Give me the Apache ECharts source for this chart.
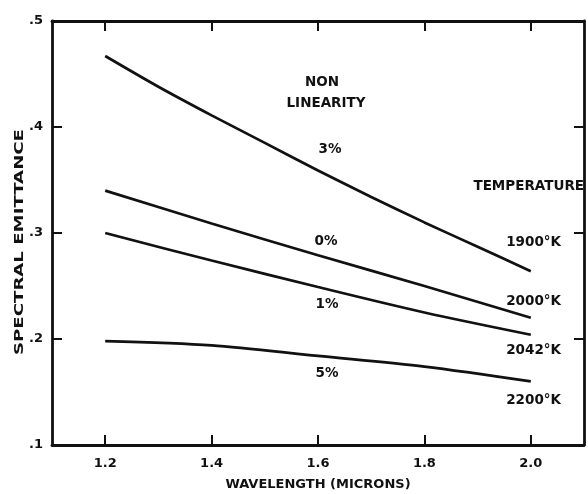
<!DOCTYPE html>
<html>
<head>
<meta charset="utf-8">
<script src="https://cdn.jsdelivr.net/npm/echarts@6/dist/echarts.min.js"></script>
<style>
  html, body { margin: 0; padding: 0; background: #ffffff; }
  #chart { width: 588px; height: 494px; }
</style>
</head>
<body>
<div id="chart"></div>
<script>
// Wavelength sample points (microns)
var waveFine = [1.2, 1.3, 1.4, 1.5, 1.6, 1.7, 1.8, 1.9, 2.0];
var waveCoarse = [1.2, 1.4, 1.6, 1.8, 2.0];

// Spectral emittance for each non-linearity / temperature case
var emit3pct = [0.467, 0.438, 0.411, 0.385, 0.359, 0.334, 0.310, 0.287, 0.264]; // 1900°K
var emit0pct = [0.340, 0.309, 0.279, 0.250, 0.220];                             // 2000°K
var emit1pct = [0.300, 0.274, 0.249, 0.225, 0.204];                             // 2042°K
var emit5pct = [0.198, 0.194, 0.184, 0.174, 0.160];                             // 2200°K

// Axis ticks
var xTicks = [1.2, 1.4, 1.6, 1.8, 2.0];
var yTicks = [0.1, 0.2, 0.3, 0.4, 0.5];

function pairs(xs, ys) {
  return xs.map(function (x, i) { return [x, ys[i]]; });
}

var FONT = '"DejaVu Sans", sans-serif';
var INK = '#111111';

function curve(xs, ys) {
  return {
    type: 'line',
    data: pairs(xs, ys),
    smooth: 0.3,
    showSymbol: false,
    silent: true,
    lineStyle: { color: INK, width: 2.7 },
    xAxisIndex: 0,
    yAxisIndex: 0
  };
}

function label(text, x, y, align, size) {
  return {
    type: 'text',
    x: x,
    y: y,
    silent: true,
    style: {
      text: text,
      fill: INK,
      font: 'bold ' + (size || 13.5) + 'px ' + FONT,
      textAlign: align || 'center',
      textVerticalAlign: 'middle'
    }
  };
}

var tickStyle = { show: true, inside: true, length: 10, lineStyle: { color: INK, width: 2 } };
var lineStyle = { show: true, lineStyle: { color: INK, width: 2.8 } };

var chart = echarts.init(document.getElementById('chart'), null, { renderer: 'canvas' });

chart.setOption({
  backgroundColor: '#ffffff',
  animation: false,
  grid: { left: 52, right: 4, top: 21, bottom: 49, containLabel: false, outerBoundsMode: 'none' },
  xAxis: [
    {
      type: 'value', position: 'bottom', min: 1.1, max: 2.1,
      axisLine: lineStyle,
      axisTick: Object.assign({ customValues: xTicks }, tickStyle),
      splitLine: { show: false },
      axisLabel: {
        customValues: xTicks, margin: 12, color: INK,
        fontFamily: FONT, fontWeight: 'bold', fontSize: 13,
        formatter: function (v) { return v.toFixed(1); }
      },
      name: 'WAVELENGTH (MICRONS)', nameLocation: 'middle', nameGap: 33,
      nameTextStyle: { color: INK, fontFamily: FONT, fontWeight: 'bold', fontSize: 13 }
    },
    {
      type: 'value', position: 'top', min: 1.1, max: 2.1,
      axisLine: lineStyle,
      axisTick: Object.assign({ customValues: xTicks }, tickStyle),
      splitLine: { show: false },
      axisLabel: { show: false }
    }
  ],
  yAxis: [
    {
      type: 'value', position: 'left', min: 0.1, max: 0.5, interval: 0.1,
      axisLine: lineStyle,
      axisTick: tickStyle,
      splitLine: { show: false },
      axisLabel: {
        margin: 9, color: INK, fontFamily: FONT, fontWeight: 'bold', fontSize: 13,
        formatter: function (v) { return v.toFixed(1).replace(/^0/, ''); }
      }
    },
    {
      type: 'value', position: 'right', min: 0.1, max: 0.5, interval: 0.1,
      axisLine: lineStyle,
      axisTick: tickStyle,
      splitLine: { show: false },
      axisLabel: { show: false }
    }
  ],
  series: [
    curve(waveFine, emit3pct),
    curve(waveCoarse, emit0pct),
    curve(waveCoarse, emit1pct),
    curve(waveCoarse, emit5pct)
  ],
  graphic: [
    // vertical axis title, stretched along its length
    {
      type: 'text',
      x: 20, y: 242,
      rotation: Math.PI / 2,
      scaleX: 1.45,
      silent: true,
      style: {
        text: 'SPECTRAL EMITTANCE', fill: INK,
        font: 'bold 12.5px ' + FONT,
        textAlign: 'center', textVerticalAlign: 'middle'
      }
    },
    label('NON', 322, 82),
    label('LINEARITY', 326, 103),
    label('3%', 330, 149),
    label('0%', 326, 241),
    label('1%', 327, 304),
    label('5%', 327, 373),
    label('TEMPERATURE', 584, 186, 'right'),
    label('1900°K', 561, 242, 'right'),
    label('2000°K', 561, 301, 'right'),
    label('2042°K', 561, 350, 'right'),
    label('2200°K', 561, 400, 'right')
  ]
});
</script>
</body>
</html>
